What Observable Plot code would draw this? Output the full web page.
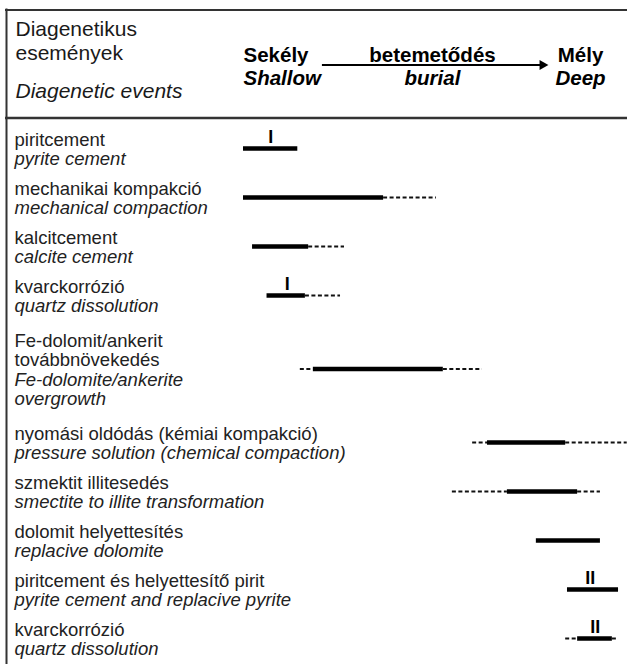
<!DOCTYPE html>
<html>
<head>
<meta charset="utf-8">
<script src="https://cdn.jsdelivr.net/npm/d3@7"></script>
<script src="https://cdn.jsdelivr.net/npm/@observablehq/plot@0.6"></script>
<style>
  html, body { margin: 0; padding: 0; background: #fff; }
  #chart svg { display: block; }
</style>
</head>
<body>
<div id="chart"></div>
<script>
// ---------- DATA ----------
const eventsHu = [
  "piritcement",
  "mechanikai kompakció",
  "kalcitcement",
  "kvarckorrózió",
  "Fe-dolomit/ankerit\ntovábbnövekedés",
  "nyomási oldódás (kémiai kompakció)",
  "szmektit illitesedés",
  "dolomit helyettesítés",
  "piritcement és helyettesítő pirit",
  "kvarckorrózió"
];
const eventsEn = [
  "pyrite cement",
  "mechanical compaction",
  "calcite cement",
  "quartz dissolution",
  "Fe-dolomite/ankerite\novergrowth",
  "pressure solution (chemical compaction)",
  "smectite to illite transformation",
  "replacive dolomite",
  "pyrite cement and replacive pyrite",
  "quartz dissolution"
];
// relative burial position: 0 = shallow, 100 = deep
const solidFrom  = [0,    0,    2.5,  6.5,  19.3, 67.4, 72.9, 80.9, 89.5,  92.3];
const solidTo    = [15,   38.7, 18,   17.1, 55.2, 89,   92.3, 98.6, 103.6, 101.9];
const dashedFrom = [null, null, null, null, 15.7, 63.3, 57.7, null, null,  89];
const dashedTo   = [null, 53.3, 27.9, 26.8, 66,   106,  98.6, null, null,  103.6];
const generationMark = ["I", null, null, "I", null, null, null, null, "II", "II"];
const generationAt   = [7.5, null, null, 12.1, null, null, null, null, 95.8, 97.2];

const headerHu = ["Diagenetikus", "események"];
const headerEn = ["Diagenetic events"];
const burialHu = ["Sekély", "betemetődés", "Mély"];
const burialEn = ["Shallow", "burial", "Deep"];
const burialAt = [0, 52.2, 93.1];
const burialArrow = [21.8, 82.6];

// ---------- LAYOUT ----------
const W = 627, H = 664;
const ROW_TOP = 125.5, SLOT = 24.5, LINE = 19.5;
const X0 = 243, X1 = 605;
const FONT = "'Liberation Sans', Arial, Helvetica, sans-serif";

const rows = eventsHu.map((hu, i) => {
  const huL = hu.split("\n"), enL = eventsEn[i].split("\n");
  return {i, huL, enL, n: huL.length + enL.length};
});
let acc = 0;
rows.forEach(r => { r.center = acc + r.n / 2; acc += r.n; });
const TOTAL = acc;
const yPx = p => (p - ROW_TOP) / SLOT;
const xPx = p => (p - X0) / (X1 - X0) * 100;

const lines = [];
rows.forEach(r => {
  [...r.huL.map(t => ({t, it: false})), ...r.enL.map(t => ({t, it: true}))].forEach((l, k) => {
    lines.push({y: r.center + ((k - (r.n - 1) / 2) * LINE + 4.75) / SLOT, text: l.t, italic: l.it});
  });
});

const solid = rows.map(r => ({y: r.center, x1: solidFrom[r.i], x2: solidTo[r.i]}));
const dashed = [];
rows.forEach(r => {
  if (dashedFrom[r.i] != null) dashed.push({y: r.center, x1: dashedFrom[r.i], x2: solidFrom[r.i]});
  if (dashedTo[r.i] != null) dashed.push({y: r.center, x1: solidTo[r.i], x2: dashedTo[r.i]});
});
const gens = rows.filter(r => generationMark[r.i]).map(r => ({y: r.center, x: generationAt[r.i], text: generationMark[r.i]}));

const headHu = headerHu.map((t, k) => ({t, y: yPx(35 + k * 24.5)}));
const headEn = headerEn.map(t => ({t, y: yPx(97)}));
const burHu = burialHu.map((t, k) => ({t, x: burialAt[k], y: yPx(61.5), k}));
const burEn = burialEn.map((t, k) => ({t, x: burialAt[k], y: yPx(84.5), k}));
const arrowY = yPx(64.5);

const chart = Plot.plot({
  width: W,
  height: H,
  margin: 0,
  x: {domain: [0, 100], range: [X0, X1], axis: null},
  y: {domain: [0, TOTAL], range: [ROW_TOP, ROW_TOP + TOTAL * SLOT], axis: null},
  style: {fontFamily: FONT, background: "#fff", color: "#000"},
  marks: [
    // table frame
    Plot.ruleY([yPx(9.5)], {insetLeft: 5, stroke: "#333", strokeWidth: 2}),
    Plot.ruleY([yPx(117.5)], {insetLeft: 5, stroke: "#333", strokeWidth: 2.5}),
    Plot.ruleX([xPx(6)], {y1: yPx(8.5), y2: TOTAL + 1, stroke: "#333", strokeWidth: 2}),

    // header
    Plot.text(headHu, {y: "y", text: "t", frameAnchor: "left", dx: 15, textAnchor: "start", lineAnchor: "bottom", fontSize: 21, fill: "#1a1a1a"}),
    Plot.text(headEn, {y: "y", text: "t", frameAnchor: "left", dx: 15, textAnchor: "start", lineAnchor: "bottom", fontSize: 21, fontStyle: "italic", fill: "#1a1a1a"}),
    Plot.text(burHu.filter(d => d.k === 0), {x: "x", y: "y", text: "t", textAnchor: "start", lineAnchor: "bottom", fontSize: 20.5, fontWeight: "bold", fill: "#000"}),
    Plot.text(burHu.filter(d => d.k > 0), {x: "x", y: "y", text: "t", textAnchor: "middle", lineAnchor: "bottom", fontSize: 20.5, fontWeight: "bold", fill: "#000"}),
    Plot.text(burEn.filter(d => d.k === 0), {x: "x", y: "y", text: "t", textAnchor: "start", lineAnchor: "bottom", fontSize: 20.5, fontWeight: "bold", fontStyle: "italic", fill: "#000"}),
    Plot.text(burEn.filter(d => d.k > 0), {x: "x", y: "y", text: "t", textAnchor: "middle", lineAnchor: "bottom", fontSize: 20.5, fontWeight: "bold", fontStyle: "italic", fill: "#000"}),
    Plot.ruleY([arrowY], {x1: burialArrow[0], x2: burialArrow[1], stroke: "#000", strokeWidth: 2, dx: 0}),
    Plot.dot([{x: burialArrow[1], y: arrowY}], {x: "x", y: "y", symbol: "triangle", rotate: 90, r: 3.8, fill: "#000", stroke: "none"}),

    // event labels
    Plot.text(lines.filter(d => !d.italic), {y: "y", text: "text", frameAnchor: "left", dx: 14, textAnchor: "start", lineAnchor: "bottom", fontSize: 18.5, fill: "#222"}),
    Plot.text(lines.filter(d => d.italic), {y: "y", text: "text", frameAnchor: "left", dx: 14, textAnchor: "start", lineAnchor: "bottom", fontSize: 18.5, fontStyle: "italic", fill: "#222"}),

    // event ranges
    Plot.ruleY(dashed, {y: "y", x1: "x1", x2: "x2", stroke: "#111", strokeWidth: 2, strokeDasharray: "4,2.5", dy: -2}),
    Plot.ruleY(solid, {y: "y", x1: "x1", x2: "x2", stroke: "#000", strokeWidth: 4.5, dy: -2}),
    Plot.text(gens, {x: "x", y: "y", text: "text", lineAnchor: "bottom", textAnchor: "middle", fontSize: 18, fontWeight: "bold", fill: "#000", dy: -8})
  ]
});
document.getElementById("chart").appendChild(chart);
</script>
</body>
</html>
